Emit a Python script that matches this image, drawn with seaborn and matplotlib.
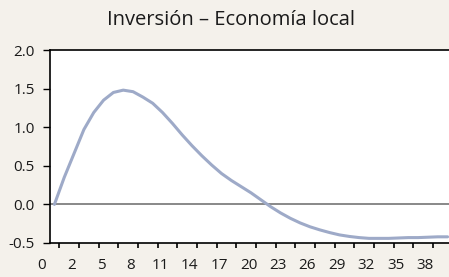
import matplotlib
matplotlib.use("Agg")
import matplotlib.pyplot as plt
import seaborn as sns
import pandas as pd
import numpy as np

title = "Inversión – Economía local"
periods = list(range(1, 42))
values = [0.0, 0.35, 0.66, 0.97, 1.19, 1.35, 1.45, 1.48, 1.46, 1.39,
          1.31, 1.19, 1.05, 0.90, 0.76, 0.63, 0.51, 0.40, 0.31, 0.23,
          0.15, 0.06, -0.03, -0.11, -0.18, -0.24, -0.29, -0.33, -0.365, -0.395,
          -0.415, -0.43, -0.44, -0.44, -0.44, -0.435, -0.43, -0.43, -0.425, -0.42,
          -0.42]
x_labels = ["0", "2", "5", "8", "11", "14", "17", "20", "23", "26", "29", "32", "35", "38"]
y_ticks = [-0.5, 0.0, 0.5, 1.0, 1.5, 2.0]

sns.set_style("ticks")
plt.rcParams["font.family"] = ["Open Sans", "DejaVu Sans"]
plt.rcParams["axes.unicode_minus"] = False

BG = "#f4f1eb"
LINE = "#9eaac8"
TXT = "#1a1a1a"

fig = plt.figure(figsize=(4.49, 2.77), dpi=100, facecolor=BG)
ax = fig.add_axes([49.5 / 449, 34 / 277, (449 - 49.5) / 449, 193 / 277])
ax.set_facecolor("white")

df = pd.DataFrame({"period": periods, "value": values})
ax.axhline(0, color="#7f7f7f", lw=1.3, zorder=1)
sns.lineplot(data=df, x="period", y="value", ax=ax, color=LINE, lw=2.2, zorder=2)

ax.set_xlim(0.5, 0.5 + 399.5 / 9.83)
ax.set_ylim(-0.5, 2.0)
ax.set_xlabel("")
ax.set_ylabel("")

ax.set_yticks(y_ticks)
ax.set_yticklabels([f"{v:.1f}" for v in y_ticks], fontsize=11, color=TXT)
ax.set_xticks(np.arange(1.5, 40.5, 2))
ax.set_xticklabels([])
ax.tick_params(axis="y", direction="out", length=5.4, width=1, color="black", pad=5.3)
ax.tick_params(axis="x", direction="out", length=3.6, width=1.2, color="black")

for k, lab in enumerate(x_labels):
    ax.text(-0.26 + 3 * k, -0.078, lab, transform=ax.get_xaxis_transform(),
            ha="center", va="top", fontsize=11, color=TXT, clip_on=False)

for s in ["left", "bottom", "top"]:
    ax.spines[s].set_color("black")
    ax.spines[s].set_linewidth(1.2)
ax.spines["right"].set_visible(False)

fig.text(231 / 449, 1 - 20 / 277, title, ha="center", va="center", fontsize=14.5, color=TXT)

fig.savefig("out.png", dpi=100, facecolor=BG)
